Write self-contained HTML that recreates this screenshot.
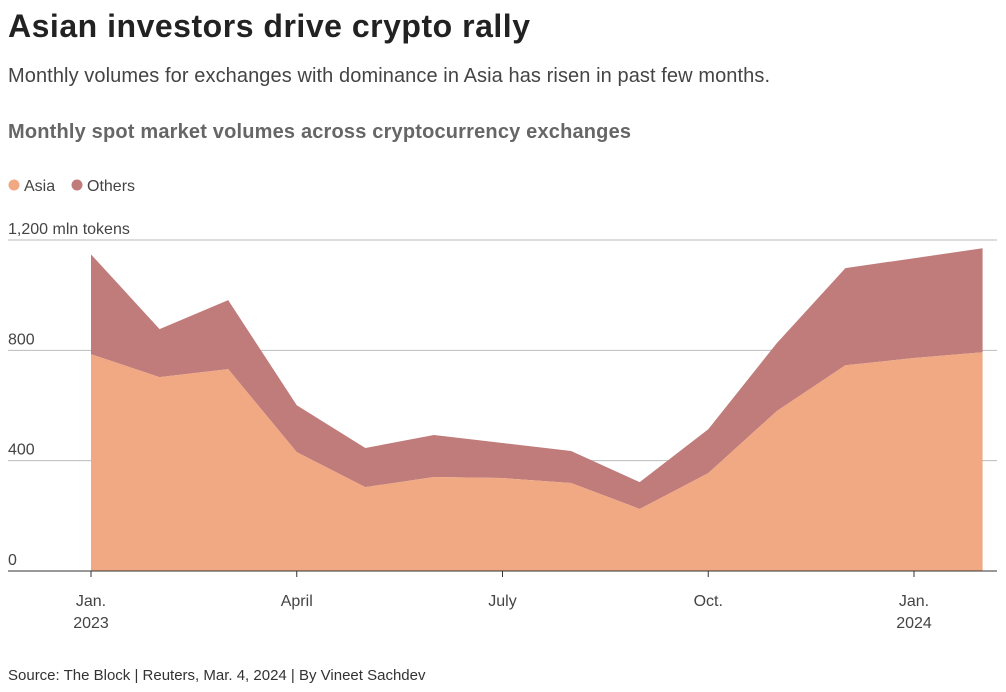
<!DOCTYPE html>
<html><head><meta charset="utf-8"><style>
body{margin:0;background:#fff;width:1006px;height:687px;overflow:hidden;font-family:"Liberation Sans",sans-serif;}
</style></head><body>
<svg width="1006" height="687">
<text x="8" y="37" font-size="32" font-weight="bold" fill="#222" textLength="522">Asian investors drive crypto rally</text>
<text x="8" y="82" font-size="20" fill="#444" textLength="762">Monthly volumes for exchanges with dominance in Asia has risen in past few months.</text>
<text x="8" y="138" font-size="20" font-weight="bold" fill="#666" textLength="623">Monthly spot market volumes across cryptocurrency exchanges</text>
<g>
<circle cx="14" cy="185" r="5.5" fill="#f0a983"/>
<text x="24" y="191" font-size="16" fill="#444">Asia</text>
<circle cx="77" cy="185" r="5.5" fill="#c07b7b"/>
<text x="87" y="191" font-size="16" fill="#444">Others</text>
</g>
<g id="grid"></g>
<g id="areas"></g>
<g id="axis"></g>
<text x="8" y="680" font-size="15" fill="#333">Source: The Block | Reuters, Mar. 4, 2024 | By Vineet Sachdev</text>
</svg>
<script>
const months = [0,1,2,3,4,5,6,7,8,9,10,11,12,13];
const asia = [786,703,732,431,304,341,337,319,225,355,580,746,772,793];
const others = [362,174,250,170,142,152,127,116,97,159,246,352,362,377];
const yTicks = [0,400,800,1200];
const yTickLabels = ["0","400","800","1,200 mln tokens"];
const xTickMonths = [0,3,6,9,12];
const xTickLabels = [["Jan.","2023"],["April",""],["July",""],["Oct.",""],["Jan.","2024"]];
const NS="http://www.w3.org/2000/svg";
const x = m => 91 + m*(914-91)/12;
const y = v => 571 - v*(571-240)/1200;
function mk(tag, attrs, parent){const e=document.createElementNS(NS,tag);for(const k in attrs)e.setAttribute(k,attrs[k]);parent.appendChild(e);return e;}
const grid=document.getElementById('grid'), areas=document.getElementById('areas'), axis=document.getElementById('axis');
yTicks.forEach((t,i)=>{
  if(t>0){const l=mk('line',{x1:8,x2:997,y1:y(t),y2:y(t),stroke:'#bbb','stroke-width':1},grid);
  
  }
  const tx=mk('text',{x:8,y:y(t)-6,'font-size':16,fill:'#444'},grid);tx.textContent=yTickLabels[i];
  
  
});
const tot=asia.map((a,i)=>a+others[i]);
let p1='M'+months.map((m,i)=>x(m)+','+y(tot[i])).join(' L')+' L'+months.slice().reverse().map(m=>x(m)+','+y(asia[m])).join(' L')+'Z';
const o=mk('path',{d:p1,fill:'#c07b7b'},areas);


let p2='M'+x(0)+','+y(0)+' L'+months.map((m,i)=>x(m)+','+y(asia[i])).join(' L')+' L'+x(months[months.length-1])+','+y(0)+'Z';
const a=mk('path',{d:p2,fill:'#f0a983'},areas);


const base=mk('line',{x1:8,x2:997,y1:y(0),y2:y(0),stroke:'#333','stroke-width':1},axis);


xTickMonths.forEach((m,i)=>{
  const tk=mk('line',{x1:x(m),x2:x(m),y1:y(0),y2:y(0)+6,stroke:'#333'},axis);
  
  
  xTickLabels[i].forEach((s,j)=>{if(!s)return;
    const t=mk('text',{x:x(m),y:606+j*22,'font-size':16,fill:'#444','text-anchor':'middle'},axis);t.textContent=s;
    
    });
});
</script>
</body></html>
